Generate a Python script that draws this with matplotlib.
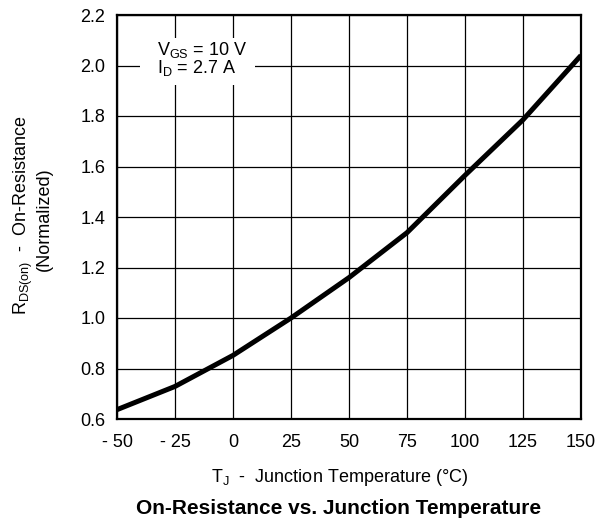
import matplotlib
matplotlib.use("Agg")
import matplotlib.pyplot as plt
from matplotlib.patches import Rectangle

plt.rcParams['font.family'] = ['Liberation Sans', 'DejaVu Sans']
plt.rcParams['mathtext.fontset'] = 'custom'
plt.rcParams['mathtext.rm'] = 'Liberation Sans'
plt.rcParams['mathtext.it'] = 'Liberation Sans'
plt.rcParams['mathtext.bf'] = 'Liberation Sans:bold'

# Data
temperature = [-50, -25, 0, 25, 50, 75, 100, 125, 150]
rds_norm = [0.637, 0.729, 0.852, 1.0, 1.16, 1.338, 1.565, 1.785, 2.04]
x_ticks = [-50, -25, 0, 25, 50, 75, 100, 125, 150]
x_tick_labels = ['- 50', '- 25', '0', '25', '50', '75', '100', '125', '150']
y_ticks = [0.6, 0.8, 1.0, 1.2, 1.4, 1.6, 1.8, 2.0, 2.2]
y_tick_labels = ['0.6', '0.8', '1.0', '1.2', '1.4', '1.6', '1.8', '2.0', '2.2']

fig = plt.figure(figsize=(6.10, 5.23), dpi=100)
ax = fig.add_axes([117/610, 1-419/523, (581-117)/610, (419-15)/523])

ax.plot(temperature, rds_norm, color='black', lw=3.6, solid_joinstyle='round',
        solid_capstyle='butt', zorder=4)

ax.set_xlim(-50, 150)
ax.set_ylim(0.6, 2.2)
ax.set_xticks(x_ticks)
ax.set_xticklabels(x_tick_labels)
ax.set_yticks(y_ticks)
ax.set_yticklabels(y_tick_labels)
ax.tick_params(axis='both', length=0, labelsize=13, colors='black')
ax.tick_params(axis='x', pad=10.5)
ax.tick_params(axis='y', pad=8.5)
ax.grid(True, color='black', lw=0.9)
ax.set_axisbelow(True)
for s in ax.spines.values():
    s.set_linewidth(1.6)
    s.set_color('black')
    s.set_zorder(5)

# annotation box
ax.add_patch(Rectangle((-40.1, 1.923), 49.6, 0.186, facecolor='white',
                       edgecolor='none', zorder=2))
ax.text(-32.8, 2.042, r'V$_{\mathregular{GS}}$ = 10 V', fontsize=13, zorder=3,
        va='baseline', ha='left')
ax.text(-32.8, 1.970, r'I$_{\mathregular{D}}$ = 2.7 A', fontsize=13, zorder=3,
        va='baseline', ha='left')

# labels
fig.text(27/610, 1-215.5/523, r'R$_{\mathregular{DS(on)}}$  -  On-Resistance',
         rotation=90, rotation_mode='anchor', ha='center', va='baseline',
         fontsize=13)
fig.text(49/610, 1-219/523, '(Normalized)', rotation=90, rotation_mode='anchor',
         ha='center', va='baseline', fontsize=13)
fig.text(340/610, 1-478/523, r'T$_{\mathregular{J}}$  -  Junction Temperature (°C)',
         ha='center', va='center', fontsize=13)
fig.text(339/610, 1-508/523, 'On-Resistance vs. Junction Temperature',
         ha='center', va='center', fontsize=15, fontweight='bold')

fig.savefig('out.png', dpi=100, facecolor='white')
